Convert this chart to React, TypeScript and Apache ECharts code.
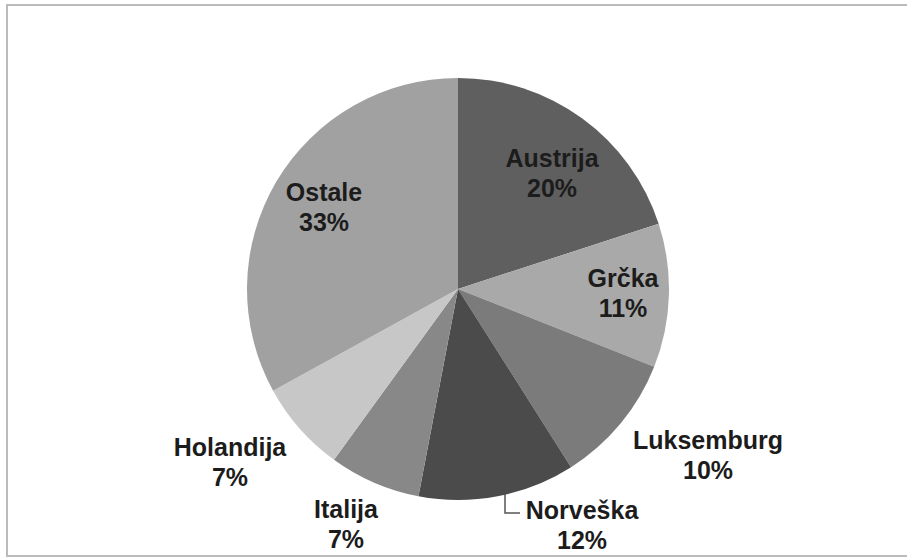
import React, { useEffect, useRef } from "react";
import * as echarts from "echarts";

const categories = ["Austrija", "Grčka", "Luksemburg", "Norveška", "Italija", "Holandija", "Ostale"];
const values = [20, 11, 10, 12, 7, 7, 33];
const colors = ["#5f5f5f", "#a9a9a9", "#7b7b7b", "#4b4b4b", "#888888", "#c7c7c7", "#a1a1a1"];
// label block centers (pixel placement of text annotations)
const labelPos: [number, number][] = [
  [552, 173],
  [623, 293],
  [708, 455],
  [582, 525],
  [346, 524],
  [230, 462],
  [324, 207],
];

export default function App() {
  const ref = useRef<HTMLDivElement>(null);
  useEffect(() => {
    if (!ref.current) return;
    const chart = echarts.init(ref.current, null, { renderer: "svg" });
    chart.setOption({
      animation: false,
      backgroundColor: "#ffffff",
      graphic: [
        {
          type: "rect",
          shape: { x: 7, y: 5, width: 910, height: 551 },
          style: { fill: "none", stroke: "#bbbbbb", lineWidth: 2 },
          silent: true,
        },
        {
          type: "polyline",
          shape: { points: [[505, 492], [505, 513], [520, 513]] },
          style: { stroke: "#555555", lineWidth: 1.5, fill: "none" },
          silent: true,
        },
      ],
      series: [
        {
          type: "pie",
          center: [458, 289],
          radius: 211,
          startAngle: 90,
          clockwise: true,
          data: categories.map((c, i) => ({
            name: c,
            value: values[i],
            itemStyle: { color: colors[i] },
          })),
          itemStyle: { borderWidth: 0 },
          label: {
            show: true,
            position: "inside",
            formatter: "{b}\n{d}%",
            fontFamily: "Liberation Sans, Arial, sans-serif",
            fontWeight: "bold",
            fontSize: 25,
            lineHeight: 30,
            color: "#1c1c1c",
            align: "center",
          },
          labelLine: { show: false },
          labelLayout: (params: any) => {
            const p = labelPos[params.dataIndex];
            return { x: p[0], y: p[1], align: "center", verticalAlign: "middle" };
          },
          emphasis: { disabled: true },
        },
      ],
    });
    return () => chart.dispose();
  }, []);
  return (
    <div
      ref={ref}
      style={{ position: "fixed", left: 0, top: 0, width: 907, height: 558 }}
    />
  );
}
